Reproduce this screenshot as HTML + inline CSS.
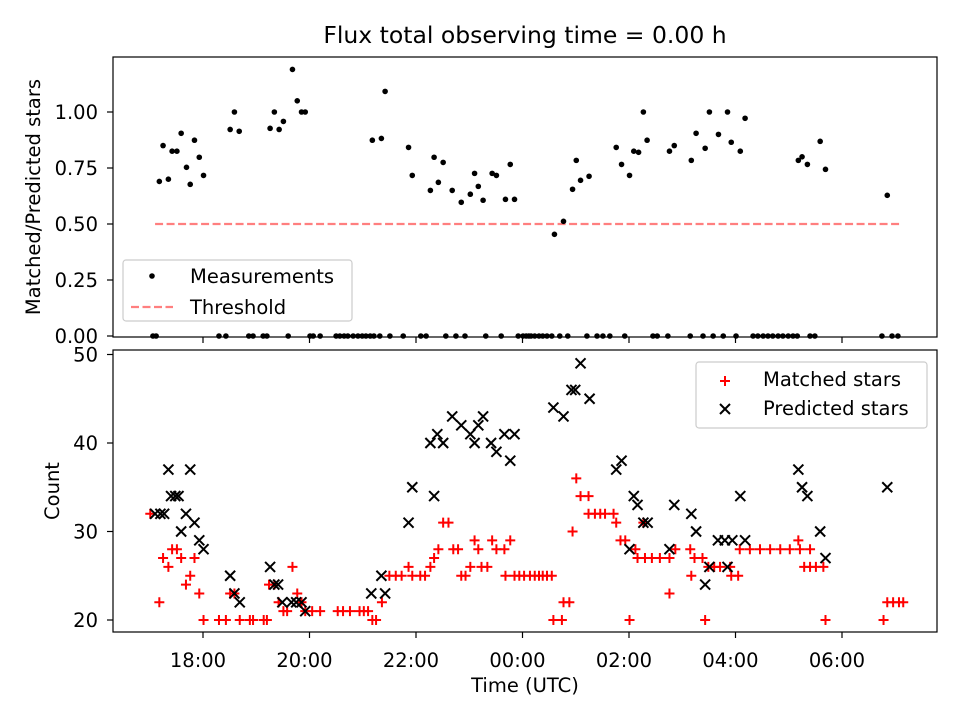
<!DOCTYPE html>
<html><head><meta charset="utf-8"><style>
html,body{margin:0;padding:0;background:#fff}
svg{display:block;font-family:"DejaVu Sans","Liberation Sans",sans-serif}
</style></head><body>
<svg id="chart" width="960" height="720" viewBox="0 0 960 720">
<rect width="960" height="720" fill="#fff"/>
<g id="g"></g>
</svg>
<script>
const ratioTimes=[17.18,17.25,17.35,17.42,17.51,17.59,17.69,17.76,17.84,17.93,18.01,18.51,18.59,18.68,19.26,19.34,19.43,19.51,19.68,19.77,19.85,19.92,21.18,21.35,21.42,21.86,21.93,22.27,22.34,22.42,22.51,22.68,22.85,23.02,23.10,23.17,23.26,23.43,23.51,23.68,23.77,23.85,24.60,24.77,24.94,25.01,25.09,25.25,25.76,25.86,26.01,26.09,26.18,26.27,26.34,26.76,26.85,27.17,27.26,27.43,27.51,27.68,27.85,27.92,28.09,28.18,29.18,29.25,29.35,29.59,29.69,30.85,
17.06,17.12,18.30,18.43,18.86,18.94,19.13,19.20,19.60,20.01,20.07,20.20,20.50,20.57,20.65,20.72,20.82,20.91,20.99,21.06,21.14,21.21,21.32,21.51,21.76,22.09,22.19,22.56,22.75,22.92,23.31,23.60,23.92,24.01,24.07,24.12,24.16,24.23,24.31,24.38,24.46,24.55,24.70,24.85,25.21,25.40,25.51,25.64,25.92,26.45,26.53,26.73,27.15,27.39,27.58,27.77,28.01,28.33,28.42,28.52,28.61,28.70,28.80,28.89,28.99,29.08,29.16,29.40,29.49,30.75,30.94,31.05];
const ratioValues=[0.69,0.85,0.70,0.825,0.825,0.905,0.753,0.677,0.874,0.798,0.717,0.922,1.0,0.914,0.927,1.0,0.922,0.958,1.19,1.05,1.0,1.0,0.874,0.882,1.092,0.842,0.717,0.65,0.798,0.686,0.775,0.65,0.597,0.633,0.726,0.668,0.606,0.726,0.717,0.61,0.766,0.61,0.454,0.512,0.655,0.784,0.695,0.713,0.842,0.766,0.717,0.825,0.82,1.0,0.874,0.825,0.85,0.784,0.905,0.838,1.0,0.9,1.0,0.865,0.825,0.972,0.784,0.80,0.766,0.869,0.744,0.628,
0,0,0,0,0,0,0,0,0,0,0,0,0,0,0,0,0,0,0,0,0,0,0,0,0,0,0,0,0,0,0,0,0,0,0,0,0,0,0,0,0,0,0,0,0,0,0,0,0,0,0,0,0,0,0,0,0,0,0,0,0,0,0,0,0,0,0,0,0,0,0,0];
const thresholdStart=17.1, thresholdEnd=31.1, thresholdValue=0.5;
const matchedTimes=[17.01,17.18,17.25,17.35,17.42,17.51,17.59,17.68,17.76,17.84,17.93,18.01,18.30,18.43,18.51,18.59,18.69,18.88,18.94,19.14,19.20,19.24,19.34,19.42,19.51,19.58,19.68,19.77,19.85,19.92,20.05,20.20,20.53,20.63,20.76,20.94,21.02,21.10,21.18,21.25,21.36,21.50,21.62,21.73,21.86,21.93,22.08,22.17,22.27,22.34,22.42,22.51,22.61,22.70,22.79,22.85,22.93,23.02,23.10,23.17,23.23,23.34,23.43,23.51,23.66,23.68,23.77,23.85,23.94,24.03,24.14,24.23,24.31,24.38,24.46,24.55,24.58,24.74,24.77,24.88,24.94,25.01,25.09,25.24,25.24,25.36,25.46,25.55,25.71,25.76,25.84,25.93,26.01,26.12,26.16,26.27,26.30,26.43,26.58,26.76,26.76,26.87,27.15,27.17,27.23,27.38,27.43,27.49,27.60,27.71,27.90,27.92,28.05,28.08,28.27,28.46,28.65,28.84,29.02,29.21,29.40,29.18,29.29,29.40,29.51,29.65,29.69,30.78,30.85,30.96,31.07,31.15];
const matchedCounts=[32,22,27,26,28,28,27,24,25,27,23,20,20,20,23,23,20,20,20,20,20,24,24,22,21,21,26,23,22,21,21,21,21,21,21,21,21,21,20,20,22,25,25,25,26,25,25,25,26,27,28,31,31,28,28,25,25,26,29,28,26,26,29,28,28,25,29,25,25,25,25,25,25,25,25,25,20,20,22,22,30,36,34,34,32,32,32,32,32,31,29,29,20,28,27,31,27,27,27,27,23,28,28,25,27,27,20,26,26,26,26,25,25,28,28,28,28,28,28,28,28,29,26,26,26,26,20,20,22,22,22,22];
const predictedTimes=[17.10,17.20,17.27,17.35,17.40,17.48,17.54,17.59,17.68,17.76,17.84,17.93,18.01,18.51,18.59,18.69,19.26,19.34,19.41,19.49,19.66,19.75,19.85,19.92,21.16,21.35,21.42,21.86,21.93,22.27,22.34,22.40,22.51,22.68,22.85,23.02,23.10,23.17,23.26,23.41,23.51,23.66,23.77,23.85,24.58,24.77,24.92,24.99,25.09,25.26,25.76,25.86,26.01,26.09,26.16,26.27,26.35,26.76,26.85,27.17,27.26,27.43,27.51,27.67,27.80,27.85,27.94,28.09,28.18,29.18,29.25,29.35,29.59,29.69,30.85];
const predictedCounts=[32,32,32,37,34,34,34,30,32,37,31,29,28,25,23,22,26,24,24,22,22,22,22,21,23,25,23,31,35,40,34,41,40,43,42,41,40,42,43,40,39,41,38,41,44,43,46,46,49,45,37,38,28,34,33,31,31,28,33,32,30,24,26,29,29,26,29,34,29,37,35,34,30,27,35];
const topTicks=[0,0.25,0.5,0.75,1.0];
const topTickLabels=["0.00","0.25","0.50","0.75","1.00"];
const bottomTicks=[20,30,40,50];
const bottomTickLabels=["20","30","40","50"];
const timeTicks=[18,20,22,24,26,28,30];
const timeTickLabels=["18:00","20:00","22:00","00:00","02:00","04:00","06:00"];

const NS="http://www.w3.org/2000/svg";
const G=document.getElementById('g');
function mk(tag,attrs,parent,text){const e=document.createElementNS(NS,tag);for(const k in attrs)e.setAttribute(k,attrs[k]);if(text!==undefined)e.textContent=text;(parent||G).appendChild(e);return e;}
const L=113,R=937,T1=57,B1=337,T2=350,B2=632;
const FS='19.5';
const xs=h=>203+(h-18)*53.25;
const yt=v=>336-v*224;
const yb=c=>620-(c-20)*8.85;

let el;
el=mk('text',{x:525,y:43,'text-anchor':'middle','font-size':'23.5'},G,'Flux total observing time = 0.00 h');


el=mk('line',{x1:xs(thresholdStart),x2:xs(thresholdEnd),y1:yt(thresholdValue),y2:yt(thresholdValue),stroke:'#ff7f7f','stroke-width':2.2,'stroke-dasharray':'8,3.5'});


const gm=mk('g',{});


ratioTimes.forEach((t,i)=>{const c=mk('circle',{cx:xs(t),cy:yt(ratioValues[i]),r:2.8,fill:'#000'},gm);

});
topTicks.forEach((v,i)=>{mk('line',{x1:L-6,x2:L,y1:yt(v),y2:yt(v),stroke:'#000','stroke-width':1.2});
el=mk('text',{x:L-15,y:yt(v)+7,'text-anchor':'end','font-size':FS},G,topTickLabels[i]);

});
timeTicks.forEach(h=>{mk('line',{x1:xs(h),x2:xs(h),y1:B1,y2:B1+6,stroke:'#000','stroke-width':1.2});});
el=mk('rect',{x:L,y:T1,width:R-L,height:B1-T1,fill:'none',stroke:'#000','stroke-width':1.2});


el=mk('text',{x:0,y:0,'text-anchor':'middle','font-size':FS,transform:'translate(40,197) rotate(-90)'},G,'Matched/Predicted stars');


const lg1=mk('g',{});


mk('rect',{x:123,y:260,width:229,height:61,rx:3,fill:'#fff','fill-opacity':0.8,stroke:'#ccc','stroke-width':1.2},lg1);
mk('circle',{cx:152,cy:276,r:2.8,fill:'#000'},lg1);
mk('text',{x:190,y:283,'font-size':FS},lg1,'Measurements');
mk('line',{x1:131,x2:173,y1:307,y2:307,stroke:'#ff7f7f','stroke-width':2.2,'stroke-dasharray':'8,3.5'},lg1);
mk('text',{x:190,y:314,'font-size':FS},lg1,'Threshold');

const gmat=mk('g',{});


matchedTimes.forEach((t,i)=>{const x=xs(t),y=yb(matchedCounts[i]);const p=mk('path',{d:`M${x-5},${y}H${x+5}M${x},${y-5}V${y+5}`,stroke:'#ff0000','stroke-width':2},gmat);

});
const gpre=mk('g',{});


predictedTimes.forEach((t,i)=>{const x=xs(t),y=yb(predictedCounts[i]);const p=mk('path',{d:`M${x-5},${y-5}L${x+5},${y+5}M${x-5},${y+5}L${x+5},${y-5}`,stroke:'#000','stroke-width':2},gpre);

});
bottomTicks.forEach((v,i)=>{mk('line',{x1:L-6,x2:L,y1:yb(v),y2:yb(v),stroke:'#000','stroke-width':1.2});
el=mk('text',{x:L-15,y:yb(v)+7,'text-anchor':'end','font-size':FS},G,bottomTickLabels[i]);

});
timeTicks.forEach((h,i)=>{mk('line',{x1:xs(h),x2:xs(h),y1:B2,y2:B2+6,stroke:'#000','stroke-width':1.2});
el=mk('text',{x:xs(h)-5,y:B2+35,'text-anchor':'middle','font-size':FS},G,timeTickLabels[i]);

});
el=mk('rect',{x:L,y:T2,width:R-L,height:B2-T2,fill:'none',stroke:'#000','stroke-width':1.2});


el=mk('text',{x:0,y:0,'text-anchor':'middle','font-size':FS,transform:'translate(59,491) rotate(-90)'},G,'Count');


el=mk('text',{x:525,y:692,'text-anchor':'middle','font-size':FS},G,'Time (UTC)');


const lg2=mk('g',{});


mk('rect',{x:696,y:362,width:231,height:66,rx:3,fill:'#fff','fill-opacity':0.8,stroke:'#ccc','stroke-width':1.2},lg2);
mk('path',{d:'M720,381H730M725,376V386',stroke:'#ff0000','stroke-width':2},lg2);
mk('text',{x:763,y:386,'font-size':FS},lg2,'Matched stars');
mk('path',{d:'M720,404L730,414M720,414L730,404',stroke:'#000','stroke-width':2},lg2);
mk('text',{x:763,y:415,'font-size':FS},lg2,'Predicted stars');
</script>
</body></html>
